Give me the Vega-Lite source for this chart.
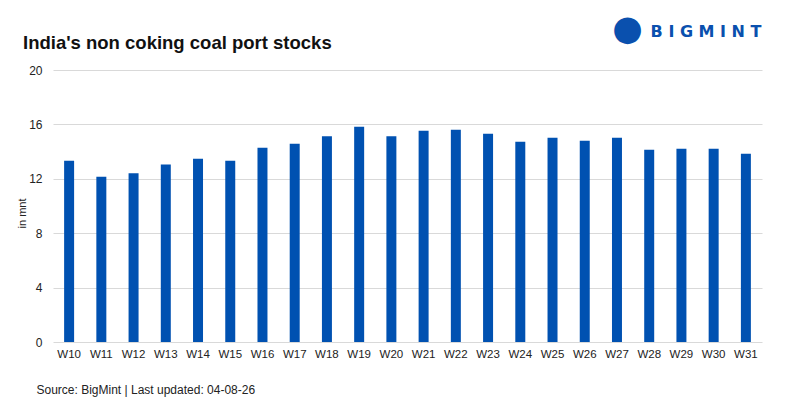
{
  "$schema": "https://vega.github.io/schema/vega-lite/v6.json",
  "width": 709,
  "height": 272,
  "autosize": "none",
  "padding": {"left": 53, "top": 70, "right": 38, "bottom": 58},
  "background": "white",
  "title": {
    "text": "India's non coking coal port stocks",
    "anchor": "start",
    "frame": "group",
    "dx": -30,
    "dy": 56,
    "offset": 0,
    "baseline": "alphabetic",
    "font": "Liberation Sans",
    "fontSize": 18.5,
    "fontWeight": "bold",
    "color": "#111111"
  },
  "config": {
    "view": {"stroke": null},
    "font": "Liberation Sans"
  },
  "data": {
    "values": [
      {"week": "W10", "stocks": 13.33},
      {"week": "W11", "stocks": 12.15},
      {"week": "W12", "stocks": 12.4},
      {"week": "W13", "stocks": 13.06},
      {"week": "W14", "stocks": 13.48},
      {"week": "W15", "stocks": 13.33},
      {"week": "W16", "stocks": 14.29},
      {"week": "W17", "stocks": 14.58},
      {"week": "W18", "stocks": 15.12},
      {"week": "W19", "stocks": 15.83},
      {"week": "W20", "stocks": 15.12},
      {"week": "W21", "stocks": 15.54},
      {"week": "W22", "stocks": 15.61},
      {"week": "W23", "stocks": 15.32},
      {"week": "W24", "stocks": 14.73},
      {"week": "W25", "stocks": 15.02},
      {"week": "W26", "stocks": 14.8},
      {"week": "W27", "stocks": 15.02},
      {"week": "W28", "stocks": 14.14},
      {"week": "W29", "stocks": 14.21},
      {"week": "W30", "stocks": 14.21},
      {"week": "W31", "stocks": 13.84}
    ]
  },
  "layer": [
    {
      "mark": {"type": "bar", "color": "#0051b1"},
      "encoding": {
        "x": {
          "field": "week",
          "type": "nominal",
          "sort": null,
          "scale": {"paddingInner": 0.69, "paddingOuter": 0.345},
          "axis": {
            "orient": "bottom",
            "labelAngle": 0,
            "ticks": false,
            "domain": false,
            "labelPadding": 6,
            "labelFontSize": 11.5,
            "labelColor": "#222222",
            "title": "Source: BigMint | Last updated: 04-08-26",
            "titleFontSize": 12,
            "titleFontWeight": "normal",
            "titleColor": "#222222",
            "titleAlign": "left",
            "titleAnchor": "start",
            "titleBaseline": "alphabetic",
            "titleX": -17,
            "titleY": 51
          }
        },
        "y": {
          "field": "stocks",
          "type": "quantitative",
          "scale": {"domain": [0, 20]},
          "axis": {
            "orient": "left",
            "values": [0, 4, 8, 12, 16, 20],
            "ticks": false,
            "domain": false,
            "gridColor": "#d9d9d9",
            "labelPadding": 11,
            "labelFontSize": 12,
            "labelColor": "#222222",
            "title": "in mnt",
            "titleFontSize": 11,
            "titleFontWeight": "normal",
            "titleColor": "#222222",
            "titleAngle": -90,
            "titleAlign": "center",
            "titleBaseline": "middle",
            "titleX": -31,
            "titleY": 143
          }
        }
      }
    },
    {
      "mark": {"type": "bar", "opacity": 0},
      "encoding": {
        "x": {
          "field": "week",
          "type": "nominal",
          "sort": null,
          "axis": {
            "orient": "top",
            "labels": false,
            "ticks": false,
            "domain": false,
            "grid": false,
            "title": "B I G M I N T",
            "titleFont": "DejaVu Sans",
            "titleFontSize": 16,
            "titleFontWeight": "bold",
            "titleColor": "#0a50ae",
            "titleAlign": "right",
            "titleBaseline": "alphabetic",
            "titleX": 708,
            "titleY": -34
          }
        },
        "y": {
          "field": "stocks",
          "type": "quantitative",
          "axis": {
            "orient": "right",
            "labels": false,
            "ticks": false,
            "domain": false,
            "grid": false,
            "title": "●",
            "titleFont": "DejaVu Sans",
            "titleFontSize": 35,
            "titleFontWeight": "normal",
            "titleColor": "#0a50ae",
            "titleAngle": 0,
            "titleAlign": "center",
            "titleBaseline": "middle",
            "titleX": -135,
            "titleY": -42
          }
        }
      }
    }
  ],
  "resolve": {"axis": {"x": "independent", "y": "independent"}}
}
